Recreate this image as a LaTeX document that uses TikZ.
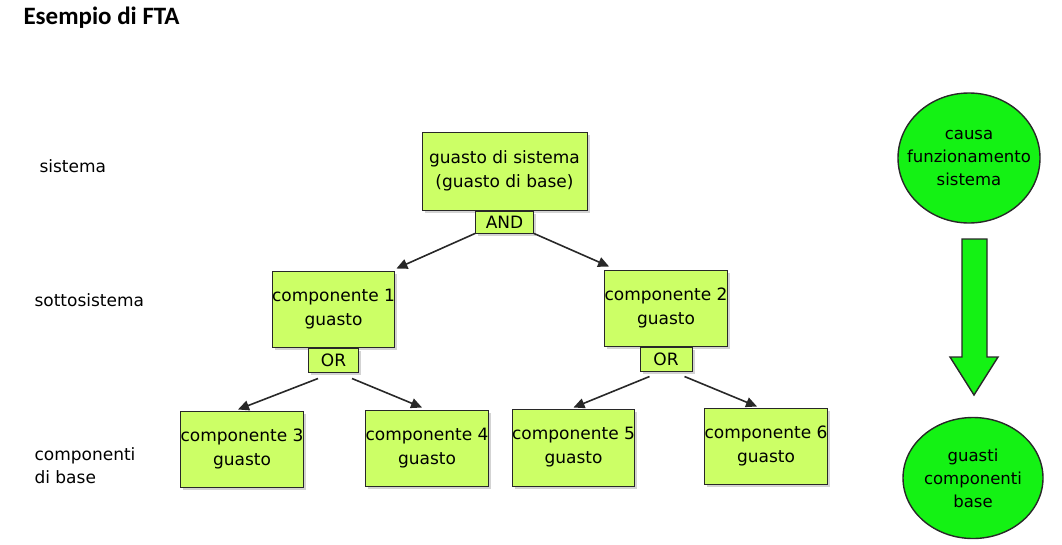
\documentclass[tikz,border=0pt]{standalone}
\usepackage{fontspec}
\setmainfont{DejaVu Sans}
\newfontfamily\titlefont{Carlito}
\usepackage{xcolor}
\usetikzlibrary{arrows.meta,shapes.geometric,shadows,calc,positioning}
\definecolor{boxgreen}{RGB}{204,255,102}
\definecolor{ballgreen}{RGB}{20,242,20}
\definecolor{edge}{RGB}{40,40,40}
\tikzset{
	fault/.style={draw=edge, line width=1pt, fill=boxgreen, align=center, inner sep=0pt,
		font=\fontsize{17}{24}\selectfont,
		drop shadow={shadow xshift=2.5pt, shadow yshift=-2.5pt, opacity=0.35}},
	gate/.style={fault, font=\fontsize{17}{20}\selectfont},
	cause/.style={ellipse, draw=edge, line width=1.4pt, fill=ballgreen, align=center,
		inner xsep=-30pt, inner ysep=-20pt, font=\fontsize{16.5}{23}\selectfont},
	level/.style={anchor=west, align=left, font=\fontsize{17}{23}\selectfont},
	link/.style={draw=edge, line width=1.6pt, -{Triangle[length=11pt,width=10pt]}}
}
\begin{document}
\begin{tikzpicture}[x=1pt,y=-1pt]
		\useasboundingbox (0,0) rectangle (1062,544);
		\node [anchor=west, font=\titlefont\bfseries\fontsize{25}{30}\selectfont] (title) at (20,18) {Esempio di FTA};
		% livelli
		\node [level] (lsys) at (36,166) {sistema};
		\node [level] (lsub) at (31,300) {sottosistema};
		\node [level] (lbase) at (31,466) {componenti\\di base};
		% albero dei guasti
		\node [fault, minimum width=165, minimum height=78] (top) at (504.5,171) {guasto di sistema\\(guasto di base)};
		\node [gate, minimum width=58, minimum height=22, anchor=north] (and) at (top.south) {AND};
		\node [fault, minimum width=121, minimum height=76] (c1) at (333.5,309) {componente 1\\guasto};
		\node [gate, minimum width=50, minimum height=24, anchor=north] (or1) at (c1.south) {OR};
		\node [fault, minimum width=122, minimum height=76] (c2) at (666,308) {componente 2\\guasto};
		\node [gate, minimum width=52, minimum height=24, anchor=north] (or2) at (c2.south) {OR};
		\node [fault, minimum width=122, minimum height=76] (c3) at (242,449) {componente 3\\guasto};
		\node [fault, minimum width=120, minimum height=76] (c4) at (427,448) {componente 4\\guasto};
		\node [fault, minimum width=119, minimum height=77] (c5) at (573.5,447.5) {componente 5\\guasto};
		\node [fault, minimum width=121, minimum height=76] (c6) at (766,446) {componente 6\\guasto};
		\draw [link] (and.south west) -- ($(c1.north east)+(1,-2)$);
		\draw [link] (and.south east) -- ($(c2.north west)+(5,-3)$);
		\draw [link] ($(or1.south west)+(10,6)$) -- ($(c3.north)+(-4,-1)$);
		\draw [link] ($(or1.south east)+(-7,6)$) -- ($(c4.north)+(-5,-2)$);
		\draw [link] ($(or2.south west)+(10,5)$) -- ($(c5.north)+(0,-1)$);
		\draw [link] ($(or2.south east)+(-8,5)$) -- ($(c6.north)+(-9,-1)$);
		% direzione dell'analisi
		\node [cause, minimum width=142, minimum height=130] (why) at (969,158) {causa\\funzionamento\\sistema};
		\node [cause, minimum width=140, minimum height=121] (basic) at (973,478) {guasti\\componenti\\base};
		\draw [draw=edge, line width=1.4pt, fill=ballgreen, line join=miter]
			(962,239) -- (987,239) -- (987,357) -- (998,357) -- (974,395) -- (950,357) -- (962,357) -- cycle;
	\end{tikzpicture}
\end{document}
